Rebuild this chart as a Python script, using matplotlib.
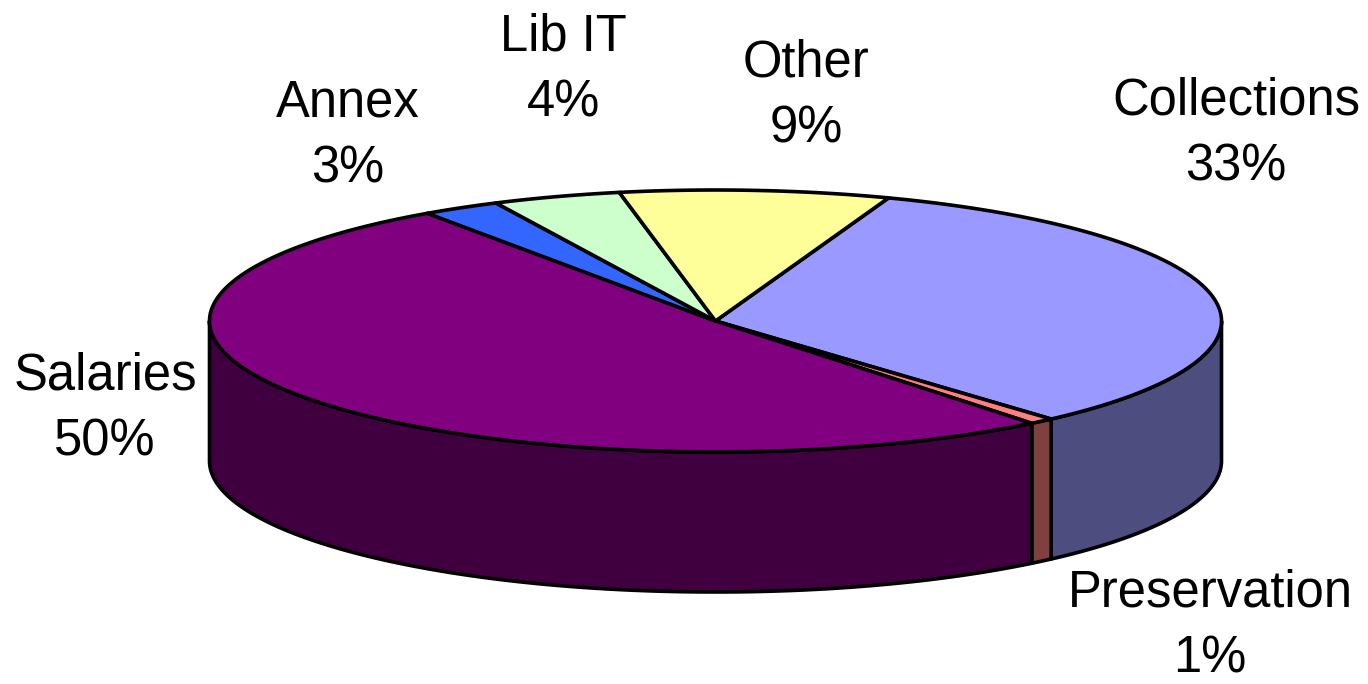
import numpy as np
import matplotlib
matplotlib.use("Agg")
import matplotlib.pyplot as plt
from matplotlib.patches import Polygon

plt.rcParams['font.family'] = ['Liberation Sans', 'DejaVu Sans']

# Clockwise from the Other/Collections boundary
categories = ["Collections", "Preservation", "Salaries", "Annex", "Lib IT", "Other"]
shares = [32.9, 0.8, 51.1, 2.5, 4.1, 8.6]
share_labels = ["33%", "1%", "50%", "3%", "4%", "9%"]

top_colors = ["#9999FF", "#FF8080", "#800080", "#3366FF", "#CCFFCC", "#FFFF99"]
side_colors = ["#4D4D80", "#804040", "#400040", "#1A3380", "#668066", "#808050"]
label_xy = [(1236, 134), (1210, 626), (105, 409), (348, 136), (563, 70), (806, 96)]

CX, CY, RX, RY, DEPTH, START = 715.5, 321, 506, 131, 140, 70.0
LW = 2.6

fig = plt.figure(figsize=(13.68, 6.84), dpi=100)
ax = fig.add_axes([0, 0, 1, 1])
ax.set_xlim(0, 1368)
ax.set_ylim(684, 0)
ax.axis("off")


def rim(a0, a1, n=200):
    t = np.radians(np.linspace(a0, a1, n))
    return CX + RX * np.cos(t), CY - RY * np.sin(t)


total = sum(shares)
edges = START - np.concatenate([[0], np.cumsum(shares)]) * 360 / total

# Side walls (only the front half of the rim is visible)
for a0, a1, col in zip(edges[:-1], edges[1:], side_colors):
    lo, hi = max(a1, -180), min(a0, 0)
    if lo >= hi:
        continue
    x, y = rim(hi, lo)
    pts = np.r_[np.c_[x, y], np.c_[x, y + DEPTH][::-1]]
    ax.add_patch(Polygon(pts, closed=True, fc=col, ec="black", lw=LW, joinstyle="round", zorder=2))

# Top face
for a0, a1, col in zip(edges[:-1], edges[1:], top_colors):
    x, y = rim(a0, a1)
    pts = np.r_[[[CX, CY]], np.c_[x, y]]
    ax.add_patch(Polygon(pts, closed=True, fc=col, ec="black", lw=LW, joinstyle="round", zorder=3))

for name, pct, (lx, ly) in zip(categories, share_labels, label_xy):
    ax.text(lx, ly, f"{name}\n{pct}", ha="center", va="center", fontsize=36.5,
            color="black", linespacing=1.44, zorder=5)

fig.savefig("out.png", dpi=100)
